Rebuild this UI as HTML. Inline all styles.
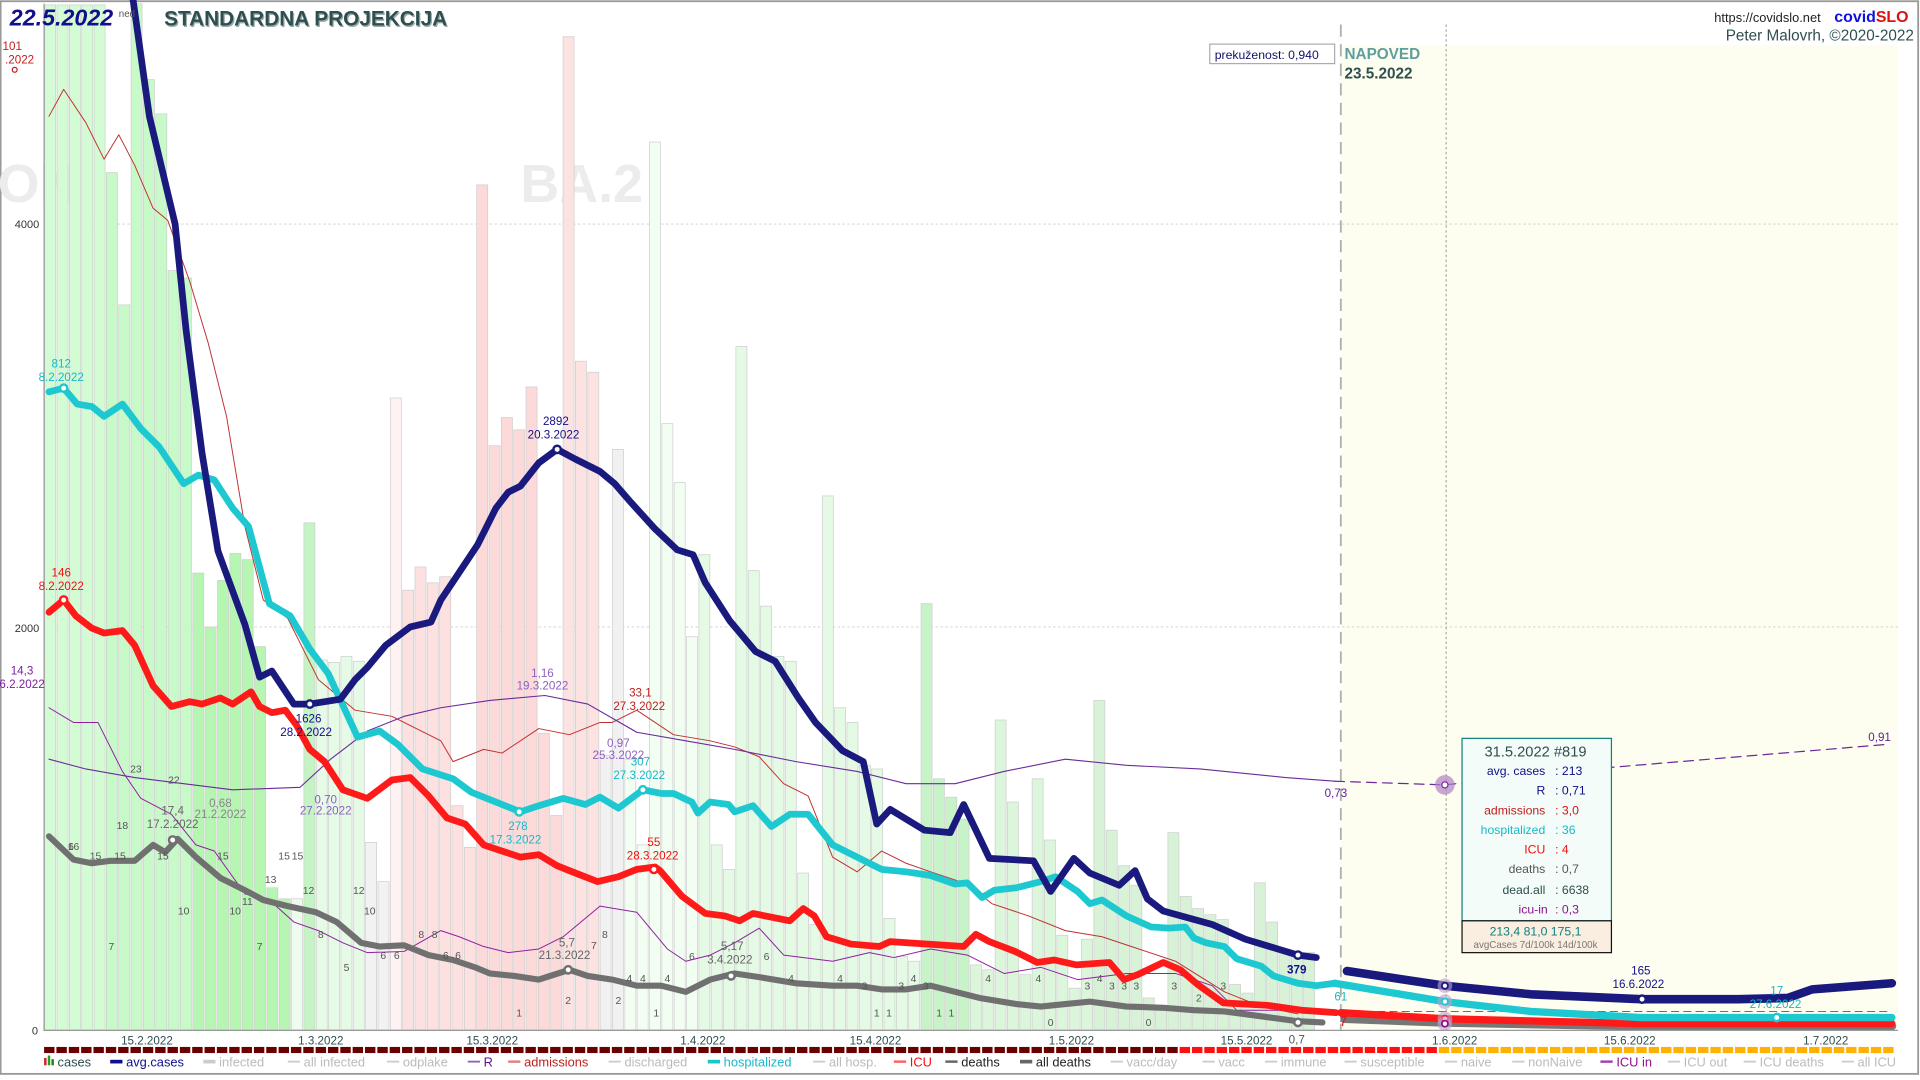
<!DOCTYPE html>
<html><head><meta charset="utf-8"><style>
html,body{margin:0;padding:0;background:#fff;width:1920px;height:1080px;overflow:hidden}
svg{display:block}
text{font-family:"Liberation Sans",sans-serif}
</style></head><body>
<svg id="s" width="1920" height="1080" viewBox="0 0 1568 882" preserveAspectRatio="none" xmlns="http://www.w3.org/2000/svg">
<rect x="0" y="0" width="1568" height="882" fill="#fff"/>
<rect x="0.5" y="1" width="1566" height="876" fill="none" stroke="#999" stroke-width="1.5"/>
<rect x="1095" y="37" width="455" height="804" fill="#fefef0"/>
<text x="-2" y="165" font-size="44" font-weight="bold" fill="#ececec">ON</text>
<text x="425" y="165" font-size="44" font-weight="bold" fill="#ececec">BA.2</text>
<line x1="36" y1="183" x2="1550" y2="183" stroke="#ccc" stroke-width="0.7" stroke-dasharray="2,2"/>
<line x1="36" y1="512" x2="1550" y2="512" stroke="#ccc" stroke-width="0.7" stroke-dasharray="2,2"/>
<g id="bars"></g>
<line x1="1095" y1="20" x2="1095" y2="841" stroke="#b0b0b0" stroke-width="1.5" stroke-dasharray="10,6"/>
<line x1="1181" y1="20" x2="1181" y2="841" stroke="#888" stroke-width="0.7" stroke-dasharray="2,2"/>
<g id="lines"></g>
<line x1="36" y1="3" x2="36" y2="842" stroke="#999" stroke-width="1"/>
<line x1="36" y1="841.5" x2="1550" y2="841.5" stroke="#999" stroke-width="1"/>
<g font-size="9" fill="#333">
<text x="12" y="186">4000</text><text x="12" y="516">2000</text><text x="26" y="845">0</text>
</g>
<g font-size="9.5" fill="#2f4f4f" text-anchor="middle">
<text x="120" y="853">15.2.2022</text><text x="262" y="853">1.3.2022</text><text x="402" y="853">15.3.2022</text>
<text x="574" y="853">1.4.2022</text><text x="715" y="853">15.4.2022</text><text x="875" y="853">1.5.2022</text>
<text x="1018" y="853">15.5.2022</text><text x="1188" y="853">1.6.2022</text><text x="1331" y="853">15.6.2022</text><text x="1491" y="853">1.7.2022</text>
</g>
<g id="strip"></g>
<!-- titles -->
<text x="8" y="21" font-size="19" font-weight="bold" font-style="italic" fill="#10108a">22.5.2022</text>
<text x="97" y="14" font-size="8" fill="#555">ned</text>
<text x="134" y="21" font-size="17" font-weight="bold" fill="#9aa" transform="translate(1,1)">STANDARDNA PROJEKCIJA</text>
<text x="134" y="21" font-size="17" font-weight="bold" fill="#2f4f4f">STANDARDNA PROJEKCIJA</text>
<text x="1400" y="18" font-size="10.5" fill="#222">https://covidslo.net</text>
<text x="1498" y="18" font-size="13" font-weight="bold" fill="#1010e0">covid<tspan fill="#e01010">SLO</tspan></text>
<text x="1563" y="33" font-size="12.5" fill="#2f4f4f" text-anchor="end">Peter Malovrh, ©2020-2022</text>
<rect x="988" y="36" width="102" height="16" fill="#fff" stroke="#999" stroke-width="0.8"/>
<text x="992" y="48" font-size="10" fill="#10106a">prekuženost: 0,940</text>
<text x="1098" y="48" font-size="12.5" font-weight="bold" fill="#5f9ea0">NAPOVED</text>
<text x="1098" y="64" font-size="12.5" font-weight="bold" fill="#2f4f4f">23.5.2022</text>
<!-- annotations -->
<g font-size="9.5" text-anchor="middle">
<text x="10" y="41" fill="#c02020">101</text><text x="16" y="52" fill="#c02020">.2022</text>
<circle cx="12" cy="57" r="2" fill="none" stroke="#c02020"/>
<text x="50" y="300" fill="#18b8c8">812</text><text x="50" y="311" fill="#18b8c8">8.2.2022</text>
<text x="50" y="471" fill="#f01010">146</text><text x="50" y="482" fill="#f01010">8.2.2022</text>
<text x="18" y="551" fill="#8020a0">14,3</text><text x="18" y="562" fill="#8020a0">6.2.2022</text>
<text x="454" y="347" fill="#10108a">2892</text><text x="452" y="358" fill="#10108a">20.3.2022</text>
<text x="252" y="590" fill="#10108a">1626</text><text x="250" y="601" fill="#10108a">28.2.2022</text>
<text x="443" y="553" fill="#9060c0">1,16</text><text x="443" y="563" fill="#9060c0">19.3.2022</text>
<text x="523" y="569" fill="#c02020">33,1</text><text x="522" y="580" fill="#c02020">27.3.2022</text>
<text x="505" y="610" fill="#9060c0">0,97</text><text x="505" y="620" fill="#9060c0">25.3.2022</text>
<text x="523" y="625" fill="#18b8c8">307</text><text x="522" y="636" fill="#18b8c8">27.3.2022</text>
<text x="423" y="678" fill="#18b8c8">278</text><text x="421" y="689" fill="#18b8c8">17.3.2022</text>
<text x="534" y="691" fill="#f01010">55</text><text x="533" y="702" fill="#f01010">28.3.2022</text>
<text x="266" y="656" fill="#9060c0">0,70</text><text x="266" y="665" fill="#9060c0">27.2.2022</text>
<text x="180" y="659" fill="#888">0,68</text><text x="180" y="668" fill="#888">21.2.2022</text>
<text x="141" y="665" fill="#666">17,4</text><text x="141" y="676" fill="#666">17.2.2022</text>
<text x="463" y="773" fill="#666">5,7</text><text x="461" y="783" fill="#666">21.3.2022</text>
<text x="598" y="776" fill="#666">5,17</text><text x="596" y="787" fill="#666">3.4.2022</text>
<text x="1059" y="795" fill="#10108a" font-weight="bold">379</text>
<text x="1095" y="817" fill="#18b8c8">61</text>
<text x="1097" y="838" fill="#f01010" font-size="11">7</text>
<text x="1059" y="852" fill="#555">0,7</text>
<text x="1091" y="651" fill="#6020a0">0,73</text>
<text x="1535" y="605" fill="#6020a0">0,91</text>
<text x="1340" y="796" fill="#10108a">165</text><text x="1338" y="807" fill="#10108a">16.6.2022</text>
<text x="1451" y="812" fill="#18b8c8">17</text><text x="1450" y="823" fill="#18b8c8">27.6.2022</text>
</g>
<g font-size="8.5" fill="#555" text-anchor="middle">
<text x="111" y="631">23</text><text x="142" y="640">22</text><text x="100" y="677">18</text>
<text x="58" y="694">6</text><text x="60" y="694">16</text><text x="78" y="702">15</text><text x="98" y="702">15</text>
<text x="133" y="702">15</text><text x="182" y="702">15</text><text x="232" y="702">15</text><text x="243" y="702">15</text>
<text x="221" y="721">13</text><text x="252" y="730">12</text><text x="293" y="730">12</text>
<text x="150" y="747">10</text><text x="192" y="747">10</text><text x="302" y="747">10</text><text x="202" y="739">11</text>
<text x="91" y="776">7</text><text x="212" y="776">7</text><text x="262" y="766">8</text><text x="283" y="793">5</text>
<text x="313" y="783">6</text><text x="324" y="783">6</text><text x="344" y="766">8</text><text x="355" y="766">8</text>
<text x="364" y="783">6</text><text x="374" y="783">6</text><text x="494" y="766">8</text><text x="485" y="775">7</text>
<text x="424" y="830">1</text><text x="464" y="820">2</text><text x="505" y="820">2</text><text x="536" y="830">1</text>
<text x="514" y="802">4</text><text x="525" y="802">4</text><text x="545" y="802">4</text><text x="565" y="784">6</text>
<text x="626" y="784">6</text><text x="646" y="802">4</text><text x="686" y="802">4</text><text x="706" y="808">3</text>
<text x="716" y="830">1</text><text x="726" y="830">1</text><text x="767" y="830">1</text><text x="777" y="830">1</text>
<text x="736" y="808">3</text><text x="746" y="802">4</text><text x="756" y="808">3</text><text x="807" y="802">4</text>
<text x="848" y="802">4</text><text x="888" y="808">3</text><text x="898" y="802">4</text><text x="908" y="808">3</text>
<text x="918" y="808">3</text><text x="928" y="808">3</text><text x="858" y="838">0</text><text x="938" y="838">0</text>
<text x="959" y="808">3</text><text x="999" y="808">3</text><text x="979" y="818">2</text>
</g>
<!-- tooltip -->
<rect x="1194" y="603" width="122" height="149" fill="#f3fcf8" stroke="#108080" stroke-width="1"/>
<rect x="1194" y="752" width="122" height="26" fill="#f9eee0" stroke="#111" stroke-width="1"/>
<g font-size="10">
<text x="1254" y="618" font-size="12" fill="#2f4f4f" text-anchor="middle">31.5.2022 #819</text>
<g text-anchor="end">
<text x="1262" y="633" fill="#10108a">avg. cases</text><text x="1262" y="649" fill="#10108a">R</text>
<text x="1262" y="665" fill="#c02020">admissions</text><text x="1262" y="681" fill="#18b8c8">hospitalized</text>
<text x="1262" y="697" fill="#f01010">ICU</text><text x="1262" y="713" fill="#555">deaths</text>
<text x="1262" y="730" fill="#2f4f4f">dead.all</text><text x="1264" y="746" fill="#901090">icu-in</text>
</g>
<text x="1270" y="633" fill="#10108a">:  213</text><text x="1270" y="649" fill="#10108a">:  0,71</text>
<text x="1270" y="665" fill="#e01010">:  3,0</text><text x="1270" y="681" fill="#18b8c8">:  36</text>
<text x="1270" y="697" fill="#f01010">:  4</text><text x="1270" y="713" fill="#555">:  0,7</text>
<text x="1270" y="730" fill="#2f4f4f">:  6638</text><text x="1270" y="746" fill="#901090">:  0,3</text>
<text x="1254" y="764" fill="#108080" text-anchor="middle">213,4   81,0   175,1</text>
<text x="1254" y="774" font-size="8" fill="#777" text-anchor="middle">avgCases 7d/100k 14d/100k</text>
</g>
<!-- legend -->
<g font-size="10.5">
<rect x="36" y="864" width="2" height="6" fill="#d02020"/><rect x="39" y="862" width="2" height="8" fill="#20a020"/><rect x="42" y="865" width="2" height="5" fill="#208020"/>
<text x="47" y="871" fill="#2f4f4f">cases</text>
<line x1="90" y1="867" x2="100" y2="867" stroke="#10108a" stroke-width="3"/><text x="103" y="871" fill="#10108a">avg.cases</text>
<line x1="166" y1="867" x2="176" y2="867" stroke="#ccc" stroke-width="3"/><text x="179" y="871" fill="#bbb">infected</text>
<line x1="235" y1="867" x2="245" y2="867" stroke="#ccc" stroke-width="1.5"/><text x="248" y="871" fill="#bbb">all infected</text>
<line x1="316" y1="867" x2="326" y2="867" stroke="#ccc" stroke-width="1.5"/><text x="329" y="871" fill="#bbb">odplake</text>
<line x1="382" y1="867" x2="392" y2="867" stroke="#9060c0" stroke-width="1.5"/><text x="395" y="871" fill="#601090">R</text>
<line x1="415" y1="867" x2="425" y2="867" stroke="#e08080" stroke-width="2"/><text x="428" y="871" fill="#c02020">admissions</text>
<line x1="497" y1="867" x2="507" y2="867" stroke="#ccc" stroke-width="1.5"/><text x="510" y="871" fill="#bbb">discharged</text>
<line x1="578" y1="867" x2="588" y2="867" stroke="#18c8c8" stroke-width="3"/><text x="591" y="871" fill="#18b8c8">hospitalized</text>
<line x1="664" y1="867" x2="674" y2="867" stroke="#ccc" stroke-width="1.5"/><text x="677" y="871" fill="#bbb">all hosp.</text>
<line x1="730" y1="867" x2="740" y2="867" stroke="#ff6060" stroke-width="2"/><text x="743" y="871" fill="#f01010">ICU</text>
<line x1="772" y1="867" x2="782" y2="867" stroke="#666" stroke-width="2"/><text x="785" y="871" fill="#222">deaths</text>
<line x1="833" y1="867" x2="843" y2="867" stroke="#666" stroke-width="3"/><text x="846" y="871" fill="#222">all deaths</text>
<line x1="907" y1="867" x2="917" y2="867" stroke="#ccc" stroke-width="1.5"/><text x="920" y="871" fill="#bbb">vacc/day</text>
<line x1="982" y1="867" x2="992" y2="867" stroke="#ccc" stroke-width="1.5"/><text x="995" y="871" fill="#bbb">vacc</text>
<line x1="1033" y1="867" x2="1043" y2="867" stroke="#ccc" stroke-width="1.5"/><text x="1046" y="871" fill="#bbb">immune</text>
<line x1="1098" y1="867" x2="1108" y2="867" stroke="#ccc" stroke-width="1.5"/><text x="1111" y="871" fill="#bbb">susceptible</text>
<line x1="1180" y1="867" x2="1190" y2="867" stroke="#ccc" stroke-width="1.5"/><text x="1193" y="871" fill="#bbb">naive</text>
<line x1="1235" y1="867" x2="1245" y2="867" stroke="#ccc" stroke-width="1.5"/><text x="1248" y="871" fill="#bbb">nonNaive</text>
<line x1="1307" y1="867" x2="1317" y2="867" stroke="#a040b0" stroke-width="2"/><text x="1320" y="871" fill="#901090">ICU in</text>
<line x1="1362" y1="867" x2="1372" y2="867" stroke="#ccc" stroke-width="1.5"/><text x="1375" y="871" fill="#bbb">ICU out</text>
<line x1="1424" y1="867" x2="1434" y2="867" stroke="#ccc" stroke-width="1.5"/><text x="1437" y="871" fill="#bbb">ICU deaths</text>
<line x1="1504" y1="867" x2="1514" y2="867" stroke="#ccc" stroke-width="1.5"/><text x="1517" y="871" fill="#bbb">all ICU</text>
</g>
</svg>
<script>
var NS="http://www.w3.org/2000/svg";
function el(p,t,a){var e=document.createElementNS(NS,t);for(var k in a)e.setAttribute(k,a[k]);p.appendChild(e);return e;}
var tops=[4,4,4,4,4,141,249,3,65,93,221,227,468,512,474,452,457,528,725,734,734,427,539,541,536,540,688,720,325,482,463,476,471,658,692,151,364,341,351,316,599,666,30,295,304,617,367,620,690,116,346,394,
520,453,690,710,283,466,495,536,540,713,755,405,578,590,625,628,750,781,785,493,636,651,669,788,792,588,655,796,636,686,764,807,767,572,678,707,723,815,823,680,732,742,747,751,804,811,721,753,777,778,778];
function col(k){
 if(k<5)return"#d4fcd4"; if(k<12)return"#c8f9c8"; if(k<20)return"#b6f5b2"; if(k==20)return"#eefcee"; if(k==21)return"#c4f3c4";
 if(k<26)return"#e6fbe6"; if(k<28)return"#f2f2f2"; if(k==28)return"#fff2f2"; if(k<35)return"#fde0e0"; if(k<42)return"#fcdada";
 if(k<45)return"#fde2e2"; if(k<47)return"#f1f1f1"; if(k<53)return"#f2fef2"; if(k<71)return"#e4fae4"; if(k<75)return"#c8f2c8";
 if(k<85)return"#dcf6dc"; return"#d8f2d8";}
var b=document.getElementById("bars");
tops.forEach(function(t,k){var x=36+10.08*k;el(b,"rect",{x:x+0.5,y:t,width:9,height:841-t,fill:col(k),stroke:"#cfcfcf","stroke-width":0.6});});
function pl(pts,st,w,dash,op){var a={points:pts.map(function(p){return p.join(",")}).join(" "),fill:"none",stroke:st,"stroke-width":w,"stroke-linejoin":"round","stroke-linecap":"round"};if(dash)a["stroke-dasharray"]=dash;if(op)a.opacity=op;el(document.getElementById("lines"),"polyline",a);}
// thin lines
pl([[40,95],[52,73],[70,100],[85,130],[97,110],[110,135],[125,170],[137,180],[155,230],[170,280],[185,340],[200,430],[215,490],[235,505],[260,555],[290,580],[320,585],[360,605],[370,622],[395,612],[410,615],[440,595],[465,600],[490,590],[500,590],[520,580],[550,600],[580,605],[600,610],[620,618],[640,640],[660,650],[680,700],[700,712],[720,695],[740,705],[760,712],[790,722],[810,738],[840,748],[870,760],[900,765],[930,775],[960,785],[1000,810],[1030,822],[1060,828]],"#c03030",0.8);
pl([[40,620],[70,628],[110,635],[150,640],[190,645],[245,643],[270,620],[300,597],[330,585],[360,578],[400,572],[445,568],[480,575],[520,598],[560,605],[600,612],[650,622],[700,630],[740,640],[780,640],[820,630],[870,620],[920,625],[980,628],[1050,635],[1090,638]],"#6a2a9a",0.9);
pl([[1090,638],[1180,641],[1300,628],[1420,618],[1540,608]],"#6a2a9a",1,"8,5");
pl([[40,578],[60,590],[80,590],[100,630],[115,652],[140,665],[160,690],[175,695],[200,730],[220,735],[240,753],[260,760],[280,770],[300,778],[330,777],[360,760],[375,765],[395,773],[415,778],[440,775],[460,765],[490,740],[520,745],[545,775],[560,785],[580,780],[600,770],[620,758],[640,780],[680,785],[710,778],[730,782],[760,775],[790,780],[820,795],[850,790],[880,800],[920,795],[960,795],[990,805],[1010,825],[1060,825]],"#9020a0",0.8);
pl([[1095,834],[1545,834]],"#9020a0",1,"6,4");
pl([[1095,826],[1545,826]],"#c03030",0.8,"6,4");
// gray deaths
pl([[40,683],[60,702],[75,705],[90,703],[110,703],[125,690],[135,696],[145,685],[160,700],[180,717],[200,727],[215,735],[235,740],[258,745],[275,753],[295,770],[310,773],[330,772],[350,780],[370,784],[388,790],[400,795],[420,797],[440,800],[465,792],[480,797],[500,800],[520,805],[540,805],[560,810],[580,800],[600,795],[620,798],[650,803],[680,805],[700,805],[720,808],[740,808],[760,805],[780,810],[800,815],[830,820],[850,822],[870,820],[890,818],[920,822],[950,823],[975,825],[1000,826],[1030,830],[1060,834],[1080,835]],"#707070",5);
pl([[1098,832],[1180,835],[1340,838],[1545,838]],"#777",7);
// red ICU
pl([[40,500],[52,490],[62,503],[75,513],[85,517],[100,515],[110,527],[125,560],[140,577],[155,573],[165,575],[180,570],[190,575],[205,565],[212,577],[222,582],[233,580],[242,592],[253,612],[265,622],[280,645],[300,652],[320,637],[335,635],[350,650],[365,668],[380,673],[395,690],[410,695],[425,700],[440,698],[455,707],[470,713],[488,720],[505,716],[520,710],[535,708],[539,711],[557,732],[576,746],[592,748],[604,752],[615,746],[645,752],[656,742],[665,748],[675,765],[695,771],[718,773],[727,769],[787,773],[797,763],[808,769],[829,777],[847,786],[861,784],[879,788],[906,786],[918,800],[929,796],[950,786],[964,792],[978,804],[999,819],[1035,821],[1063,825],[1091,827]],"#ff1a1a",5.5);
pl([[1095,827],[1180,832],[1340,836],[1545,836]],"#ff1a1a",6);
// cyan
pl([[40,320],[52,317],[63,330],[75,332],[85,340],[100,330],[115,350],[130,365],[150,395],[162,388],[175,392],[190,415],[203,430],[220,493],[237,503],[253,530],[268,550],[292,602],[310,597],[325,608],[345,628],[370,636],[385,647],[400,653],[425,663],[440,658],[460,652],[478,657],[490,651],[505,660],[525,645],[540,648],[550,648],[565,655],[570,664],[580,655],[595,657],[600,663],[615,658],[630,675],[645,665],[660,665],[680,690],[690,695],[700,700],[720,710],[740,712],[760,715],[780,722],[790,721],[802,733],[812,727],[830,725],[850,720],[862,716],[880,728],[890,738],[900,735],[920,748],[940,757],[955,758],[968,757],[975,766],[985,770],[1000,773],[1010,783],[1030,789],[1040,797],[1060,803],[1075,805],[1090,803]],"#1ec8d0",5.5);
pl([[1090,803],[1120,808],[1180,818],[1250,826],[1340,831],[1545,831]],"#1ec8d0",6);
// navy
pl([[108,-5],[122,95],[143,183],[152,270],[165,370],[178,450],[200,510],[212,553],[222,548],[240,575],[253,575],[278,571],[290,555],[300,545],[315,527],[335,512],[352,508],[360,490],[372,472],[390,445],[405,415],[415,402],[425,397],[440,378],[455,367],[470,375],[490,385],[502,395],[515,410],[535,432],[553,449],[566,453],[576,476],[596,507],[617,532],[633,540],[652,570],[666,590],[688,613],[705,622],[716,673],[727,661],[755,678],[776,680],[787,657],[808,701],[844,703],[858,728],[877,701],[890,713],[914,723],[927,711],[937,734],[950,744],[990,755],[1017,767],[1060,780],[1075,782]],"#1a1a7e",5.5);
pl([[1100,793],[1180,805],[1250,812],[1340,816],[1420,816],[1460,815],[1480,808],[1545,803]],"#1a1a7e",7);
var L=document.getElementById("lines");
[[52,317,"#1ec8d0"],[52,490,"#ff1a1a"],[455,367,"#1a1a7e"],[253,575,"#1a1a7e"],[424,663,"#1ec8d0"],[525,645,"#1ec8d0"],[534,710,"#ff1a1a"],[141,686,"#707070"],[464,792,"#707070"],[597,797,"#707070"],[1060,780,"#1a1a7e"],[1060,835,"#707070"],[1341,816,"#1a1a7e"],[1451,831,"#1ec8d0"]].forEach(function(c){el(L,"circle",{cx:c[0],cy:c[1],r:3,fill:"#fff",stroke:c[2],"stroke-width":2});});
el(L,"circle",{cx:1180,cy:641,r:8,fill:"#b080c0",opacity:0.7});el(L,"circle",{cx:1180,cy:641,r:2.5,fill:"#fff",stroke:"#7030a0"});
[[1180,805,"#1a1a7e"],[1180,818,"#1ec8d0"],[1180,832,"#ff1a1a"],[1180,836,"#901090"]].forEach(function(c){el(L,"circle",{cx:c[0],cy:c[1],r:6,fill:"#c0a0d0",opacity:0.6});el(L,"circle",{cx:c[0],cy:c[1],r:2.5,fill:"#fff",stroke:c[2],"stroke-width":1.5});});
// date strip
var S=document.getElementById("strip");
for(var x=36;x<1545;x+=10.08){var c=x<955?"#6b0000":(x<1165?"#ff1010":"#ffb000");el(S,"rect",{x:x,y:855,width:8.5,height:5,fill:c});}
</script>
</body></html>
